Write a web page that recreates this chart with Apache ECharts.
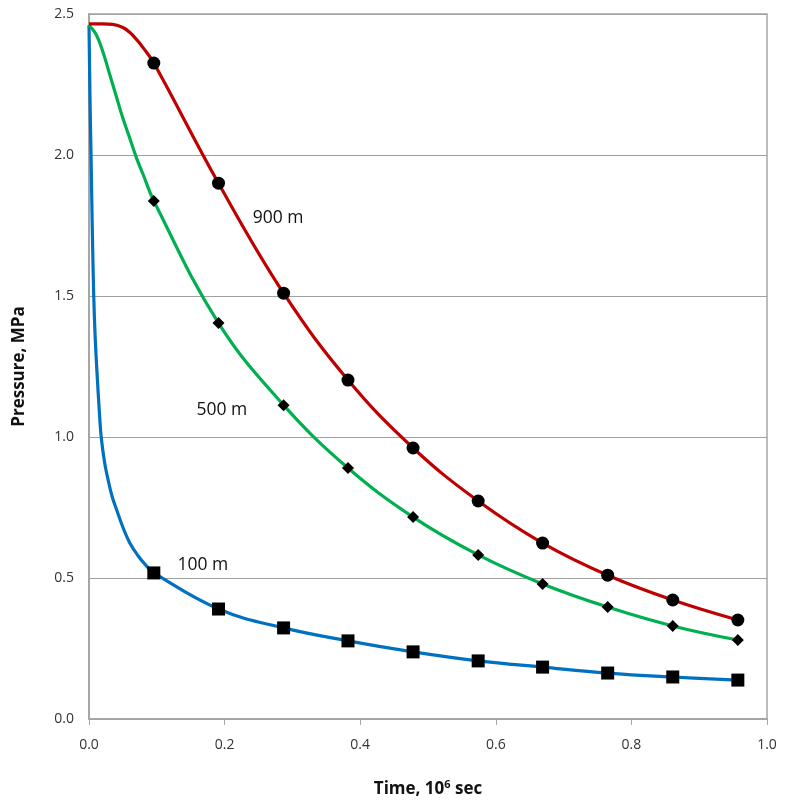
<!DOCTYPE html>
<html>
<head>
<meta charset="utf-8">
<script src="https://cdn.jsdelivr.net/npm/echarts@6/dist/echarts.min.js"></script>
<style>
html,body{margin:0;padding:0;background:#fff;}
#chart{width:785px;height:805px;}
</style>
</head>
<body>
<div id="chart"></div>
<script>
// Marker times (10^6 sec)
const markerTimes = [0.0956, 0.191, 0.287, 0.382, 0.478, 0.574, 0.669, 0.765, 0.861, 0.957];
// Marker values (MPa)
const p100Markers = [0.518, 0.39, 0.323, 0.277, 0.238, 0.206, 0.184, 0.163, 0.149, 0.138];
const p500Markers = [1.837, 1.404, 1.113, 0.89, 0.716, 0.582, 0.479, 0.397, 0.33, 0.28];
const p900Markers = [2.326, 1.90, 1.51, 1.202, 0.961, 0.773, 0.624, 0.51, 0.422, 0.351];
// Early part of the curves (before the first marker)
const t100Early = [0, 0.0015, 0.003, 0.005, 0.007, 0.009, 0.012, 0.015, 0.018, 0.023, 0.028, 0.034, 0.041, 0.05, 0.06, 0.072, 0.084];
const p100Early = [2.46, 2.2, 2.0, 1.72, 1.5, 1.36, 1.22, 1.1, 1.0, 0.91, 0.85, 0.79, 0.74, 0.68, 0.625, 0.58, 0.545];
const t500Early = [0, 0.01, 0.02, 0.03, 0.04, 0.05, 0.06, 0.07, 0.08];
const p500Early = [2.46, 2.43, 2.37, 2.29, 2.21, 2.13, 2.06, 1.99, 1.93];
const t900Early = [0, 0.02, 0.035, 0.05, 0.06, 0.07, 0.08];
const p900Early = [2.465, 2.465, 2.463, 2.452, 2.435, 2.41, 2.38];
// Tick labels
const xTicks = [0, 0.2, 0.4, 0.6, 0.8, 1.0];
const yTicks = [0, 0.5, 1.0, 1.5, 2.0, 2.5];
const seriesNames = ['100 m', '500 m', '900 m'];

function pairs(ts, ps) { return ts.map((t, i) => [t, ps[i]]); }
const curve100 = pairs(t100Early, p100Early).concat(pairs(markerTimes, p100Markers));
const curve500 = pairs(t500Early, p500Early).concat(pairs(markerTimes, p500Markers));
const curve900 = pairs(t900Early, p900Early).concat(pairs(markerTimes, p900Markers));

const FONT = 'Open Sans';
const chart = echarts.init(document.getElementById('chart'), null, {renderer: 'canvas'});

function lineSeries(name, data, color, labelCoord) {
  return {
    name: name, type: 'line', data: data, smooth: 0.4,
    showSymbol: false, lineStyle: {color: color, width: 3.2}, z: 2,
    markPoint: {
      symbol: 'circle', symbolSize: 1, itemStyle: {color: 'rgba(0,0,0,0)'},
      label: {show: true, formatter: name, color: '#111', fontFamily: FONT, fontSize: 17.5, position: 'inside'},
      data: [{coord: labelCoord}]
    }
  };
}
function markerSeries(name, ps, symbol, size) {
  return {
    name: name + ' markers', type: 'scatter', data: pairs(markerTimes, ps),
    symbol: symbol, symbolSize: size, itemStyle: {color: '#000', opacity: 1}, z: 3
  };
}

chart.setOption({
  animation: false,
  grid: {left: 89, right: 18, top: 14, bottom: 86, show: true, borderColor: '#a6a6a6', borderWidth: 1.5},
  xAxis: {
    type: 'value', min: 0, max: 1, interval: 0.2,
    name: '{a|Time, 10}{s|6}{a| sec}', nameLocation: 'middle', nameGap: 60,
    nameTextStyle: {rich: {
      a: {fontFamily: FONT, fontWeight: 'bold', fontSize: 17, color: '#111'},
      s: {fontFamily: FONT, fontWeight: 'bold', fontSize: 11, color: '#111', verticalAlign: 'top', padding: [0, 0, 10, 0]}
    }},
    axisLine: {lineStyle: {color: '#a6a6a6', width: 2}},
    axisTick: {show: true, inside: false, length: 6, lineStyle: {color: '#a6a6a6'}},
    axisLabel: {formatter: v => v.toFixed(1), fontFamily: FONT, fontSize: 14, color: '#333', margin: 19},
    splitLine: {show: false}
  },
  yAxis: {
    type: 'value', min: 0, max: 2.5, interval: 0.5,
    name: 'Pressure, MPa', nameLocation: 'middle', nameGap: 61,
    nameTextStyle: {fontFamily: FONT, fontWeight: 'bold', fontSize: 17, color: '#111'},
    axisLine: {show: true, lineStyle: {color: '#a6a6a6', width: 2}},
    axisTick: {show: false},
    axisLabel: {formatter: v => v.toFixed(1), fontFamily: FONT, fontSize: 14, color: '#333', margin: 15},
    splitLine: {show: true, lineStyle: {color: '#a0a0a0', width: 1}}
  },
  series: [
    lineSeries(seriesNames[0], curve100, '#0070C0', [0.168, 0.546]),
    lineSeries(seriesNames[1], curve500, '#00B050', [0.196, 1.096]),
    lineSeries(seriesNames[2], curve900, '#C00000', [0.279, 1.777]),
    markerSeries(seriesNames[0], p100Markers, 'rect', 13),
    markerSeries(seriesNames[1], p500Markers, 'diamond', 12),
    markerSeries(seriesNames[2], p900Markers, 'circle', 13)
  ]
});
</script>
</body>
</html>
